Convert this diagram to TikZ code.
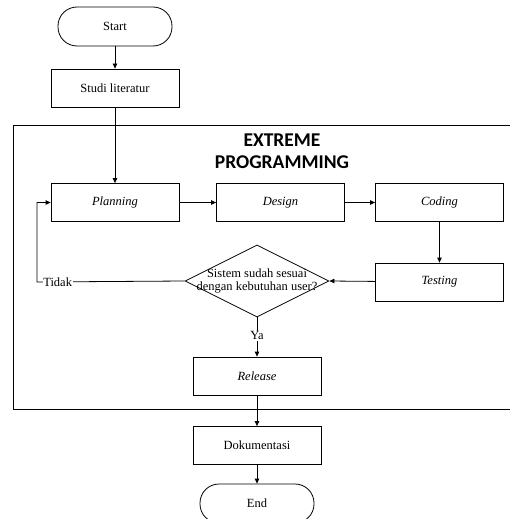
\documentclass[tikz,border=0pt]{standalone}
\usepackage{fontspec}
\setmainfont{Liberation Serif}
\newfontfamily\titlefont{Carlito}
\usetikzlibrary{shapes.geometric,arrows.meta}
\begin{document}
\begin{tikzpicture}[x=1pt,y=-1pt,
  every node/.style={font=\fontsize{12.5}{14}\selectfont},
  proc/.style={draw,line width=0.8pt,minimum width=128pt,minimum height=38pt,inner sep=0pt},
  term/.style={draw,line width=0.8pt,minimum width=114pt,minimum height=39pt,rounded corners=19pt,inner sep=0pt},
  conn/.style={line width=0.8pt,-{Triangle[length=5pt,width=4.5pt]}},
  plain/.style={line width=0.8pt}]
\useasboundingbox (0,0) rectangle (510,519);
\clip (0,0) rectangle (510,519);
% outer box
\draw[plain] (13,125) rectangle (514,409);
\node[font=\titlefont\bfseries\fontsize{19.5}{22}\selectfont,align=center] (title) at (282,151) {EXTREME\\PROGRAMMING};
\node[term] (start) at (115,26.5) {Start};
\node[proc] (studi) at (115,88) {Studi literatur};
\node[proc] (plan) at (115,202.5) {\itshape Planning};
\node[proc] (design) at (280.5,202.5) {\itshape Design};
\node[proc] (coding) at (439.5,202.5) {\itshape Coding};
\node[proc] (testing) at (439.5,282) {\itshape Testing};
\node[draw,line width=0.8pt,diamond,aspect=2,minimum width=144pt,minimum height=72pt,inner sep=0pt] (dia) at (257,281) {};
\node[align=center,font=\fontsize{12.5}{12.5}\selectfont] (diatext) at (257,281) {Sistem sudah sesuai\\dengan kebutuhan user?};
\node[proc] (release) at (257,376) {\itshape Release};
\node[proc] (doku) at (257,445.5) {Dokumentasi};
\node[term] (end) at (257,503.5) {End};
\coordinate (loopbl) at (37,282);
\coordinate (looptl) at (37,202.5);
\draw[conn] (start) -- (studi);
\draw[conn] (studi) -- (plan);
\draw[conn] (plan) -- (design);
\draw[conn] (design) -- (coding);
\draw[conn] (coding) -- (testing);
\draw[conn] (testing) -- (dia.east);
\draw[conn] (dia.west) -- node[fill=white,inner sep=0.5pt,pos=0.86] (tidak) {Tidak} (loopbl) -- (looptl) -- (plan.west);
\draw[conn] (dia.south) -- node[fill=white,inner sep=1pt,pos=0.47] (ya) {Ya} (release);
\draw[conn] (release) -- (doku);
\draw[conn] (doku) -- (end);
\end{tikzpicture}
\end{document}
